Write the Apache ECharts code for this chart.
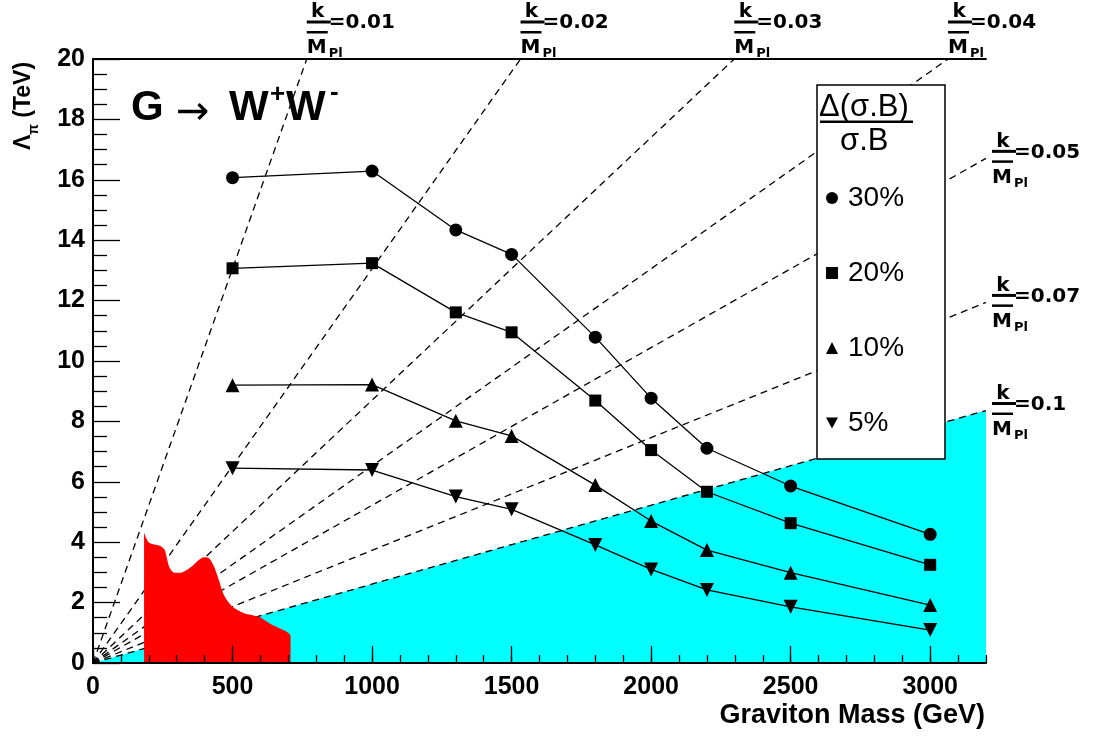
<!DOCTYPE html>
<html><head><meta charset="utf-8">
<script src="https://cdn.jsdelivr.net/npm/echarts@6/dist/echarts.min.js"></script>
<style>html,body{margin:0;padding:0;background:#fff}#c{width:1094px;height:736px}</style>
</head><body><div id="c"></div>
<script>
// ---- data ----
const masses = [500, 1000, 1300, 1500, 1800, 2000, 2200, 2500, 3000];
const lam30 = [16.07, 16.29, 14.34, 13.53, 10.79, 8.77, 7.11, 5.86, 4.26];
const lam20 = [13.07, 13.24, 11.61, 10.95, 8.69, 7.05, 5.67, 4.63, 3.25];
const lam10 = [9.20, 9.22, 8.02, 7.52, 5.89, 4.70, 3.74, 2.99, 1.92];
const lam5  = [6.45, 6.39, 5.51, 5.09, 3.91, 3.10, 2.42, 1.86, 1.09];
const seriesNames = ['30%', '20%', '10%', '5%'];
// k/M_Pl reference lines: end points where each dashed line leaves the frame
const kValues = ['0.01', '0.02', '0.03', '0.04', '0.05', '0.07', '0.1'];
const kEndM = [766, 1532, 2298, 3064, 3200, 3200, 3200];
const kEndL = [20, 20, 20, 20, 16.71, 11.94, 8.36];
// theoretically disfavoured region (below k/M_Pl = 0.1)
const cyanM = [0, 3200];
const cyanL = [0, 8.36];
// excluded (red) region boundary
const redM = [183, 183, 201, 243, 257, 273, 291, 315, 350, 398, 416, 434, 451, 469, 499, 541, 595, 636, 708, 708];
const redL = [0, 4.31, 3.98, 3.87, 3.74, 3.19, 2.99, 2.99, 3.17, 3.50, 3.47, 3.19, 2.75, 2.25, 1.87, 1.65, 1.53, 1.29, 0.89, 0];
const xTickLabels = [0, 500, 1000, 1500, 2000, 2500, 3000];

const zip = (a, b) => a.map((v, i) => [v, b[i]]);
const chart = echarts.init(document.getElementById('c'), null, {renderer: 'canvas'});
const FONT = 'Liberation Sans, Arial, sans-serif';

const dataSets = [lam30, lam20, lam10, lam5];
const symbols = ['circle', 'rect', 'triangle', 'path://M0,0L10,0L5,9Z'];
const symSizes = [13, 12, 14, 14];

const series = [];
series.push({
  type: 'line', name: 'cyan', data: zip(cyanM, cyanL), symbol: 'none', z: 1,
  lineStyle: {width: 0}, areaStyle: {color: '#00ffff', opacity: 1}, silent: true
});
kValues.forEach((k, i) => {
  series.push({
    type: 'line', name: 'k' + k, data: [[0, 0], [kEndM[i], kEndL[i]]], symbol: 'none', z: 1,
    lineStyle: {color: '#000', width: 1.3, type: [7, 5]}, silent: true
  });
});
series.push({
  type: 'line', name: 'red', data: zip(redM, redL), symbol: 'none', z: 2, smooth: 0.25,
  lineStyle: {width: 0}, areaStyle: {color: '#ff0000', opacity: 1}, silent: true
});
dataSets.forEach((d, i) => {
  series.push({
    type: 'line', name: seriesNames[i], data: zip(masses, d), z: 2,
    symbol: symbols[i], symbolSize: symSizes[i],
    itemStyle: {color: '#000'}, lineStyle: {color: '#000', width: 1.3}
  });
});

const axisLine = {show: true, lineStyle: {color: '#000', width: 2}};
chart.setOption({
  animation: false,
  backgroundColor: '#fff',
  grid: {left: 93, right: 108, top: 59, bottom: 73},
  xAxis: [
    {type: 'value', min: 0, max: 3200, interval: 500, z: 6, axisLine,
     splitLine: {show: false},
     axisTick: {show: true, inside: true, length: 17, lineStyle: {color: '#000', width: 1.3}},
     axisLabel: {show: true, showMaxLabel: false, margin: 12, color: '#000', fontFamily: FONT, fontWeight: 'bold', fontSize: 25,
       formatter: v => xTickLabels.indexOf(v) >= 0 ? String(v) : ''}},
    {type: 'value', min: 0, max: 3200, interval: 100, z: 6, axisLine: {show: false}, position: 'bottom',
     splitLine: {show: false}, axisLabel: {show: false},
     axisTick: {show: true, inside: true, length: 8, lineStyle: {color: '#000', width: 1.3}}},
    {type: 'value', min: 0, max: 3200, position: 'top', z: 6, axisLine, axisTick: {show: false},
     axisLabel: {show: false}, splitLine: {show: false}}
  ],
  yAxis: [
    {type: 'value', min: 0, max: 20, interval: 2, z: 6, axisLine,
     splitLine: {show: false},
     axisTick: {show: true, inside: true, length: 27, lineStyle: {color: '#000', width: 1.3}},
     minorTick: {show: true, splitNumber: 4, length: 14, lineStyle: {color: '#000', width: 1.3}},
     axisLabel: {margin: 8, color: '#000', fontFamily: FONT, fontWeight: 'bold', fontSize: 25}},
    {type: 'value', min: 0, max: 20, position: 'right', z: 6, axisLine, axisTick: {show: false},
     axisLabel: {show: false}, splitLine: {show: false}}
  ],
  legend: {
    orient: 'vertical', left: 826, top: 183, padding: 0, itemGap: 45,
    itemWidth: 12, itemHeight: 12, selectedMode: false, z: 5,
    textStyle: {fontSize: 28, fontFamily: FONT, color: '#000', lineHeight: 30, padding: [0, 0, 0, 5]},
    data: seriesNames.map((n, i) => ({name: n, icon: symbols[i]}))
  },
  series
});

// ---- annotations ----
const g = [];
// legend box + title
g.push({type: 'rect', z: 3, shape: {x: 817, y: 85, width: 128, height: 374},
  style: {fill: '#fff', stroke: '#000', lineWidth: 1.5}});
g.push({type: 'text', z: 7, x: 819, y: 107, style: {text: 'Δ(σ.B)', font: '31px ' + FONT, fill: '#000', verticalAlign: 'middle'}});
g.push({type: 'rect', z: 7, shape: {x: 820, y: 120.5, width: 93, height: 2.5}, style: {fill: '#000'}});
g.push({type: 'text', z: 7, x: 840, y: 141, style: {text: 'σ.B', font: '31px ' + FONT, fill: '#000', verticalAlign: 'middle'}});
// process title
const tb = 'bold 42px ' + FONT;
g.push({type: 'text', z: 7, x: 131, y: 108, style: {text: 'G', font: tb, fill: '#000', verticalAlign: 'middle'}});
g.push({type: 'text', z: 7, x: 176, y: 114, style: {text: '→', font: '40px DejaVu Sans', fill: '#000', verticalAlign: 'middle'}});
g.push({type: 'text', z: 7, x: 229, y: 108, style: {text: 'W', font: tb, fill: '#000', verticalAlign: 'middle'}});
g.push({type: 'text', z: 7, x: 270, y: 95, style: {text: '+', font: 'bold 26px ' + FONT, fill: '#000', verticalAlign: 'middle'}});
g.push({type: 'text', z: 7, x: 286, y: 108, style: {text: 'W', font: tb, fill: '#000', verticalAlign: 'middle'}});
g.push({type: 'text', z: 7, x: 330, y: 93, style: {text: '-', font: 'bold 26px ' + FONT, fill: '#000', verticalAlign: 'middle'}});
// axis titles
g.push({type: 'text', z: 7, x: 985, y: 716, style: {text: 'Graviton Mass (GeV)', font: 'bold 27px ' + FONT, fill: '#000', align: 'right', verticalAlign: 'middle'}});
g.push({type: 'text', z: 7, x: 24, y: 106, rotation: Math.PI / 2,
  style: {text: '{a|Λ}{s|π}{a| (TeV)}', align: 'center', verticalAlign: 'middle',
    rich: {a: {font: 'bold 23px ' + FONT, fill: '#000', lineHeight: 34, verticalAlign: 'middle'},
           s: {font: 'bold 14px ' + FONT, fill: '#000', lineHeight: 34, verticalAlign: 'bottom'}}}});
// k/M_Pl labels
const KF = 'DejaVu Sans';
kValues.forEach((k, i) => {
  const p = chart.convertToPixel({xAxisIndex: 0, yAxisIndex: 0}, [kEndM[i], kEndL[i]]);
  let bx, by;
  if (kEndL[i] >= 20) { bx = p[0]; by = p[1] - 37; } else { bx = p[0] + 6; by = p[1] - 7; }
  g.push({type: 'rect', z: 7, shape: {x: bx, y: by - 1.5, width: 24, height: 3}, style: {fill: '#000'}});
  g.push({type: 'text', z: 7, x: bx + 11, y: by - 10, style: {text: 'k', font: 'bold 20px ' + KF, fill: '#000', align: 'center', verticalAlign: 'middle'}});
  g.push({type: 'text', z: 7, x: bx + 22, y: by + 1, style: {text: '=' + k, font: 'bold 20px ' + KF, fill: '#000', align: 'left', verticalAlign: 'middle'}});
  g.push({type: 'rect', z: 7, shape: {x: bx, y: by + 9, width: 21, height: 2.5}, style: {fill: '#000'}});
  g.push({type: 'text', z: 7, x: bx, y: by + 26, style: {text: 'M', font: 'bold 20px ' + KF, fill: '#000', align: 'left', verticalAlign: 'middle'}});
  g.push({type: 'text', z: 7, x: bx + 22, y: by + 32, style: {text: 'Pl', font: 'bold 13px ' + KF, fill: '#000', align: 'left', verticalAlign: 'middle'}});
});
chart.setOption({graphic: {elements: g}});
</script></body></html>
